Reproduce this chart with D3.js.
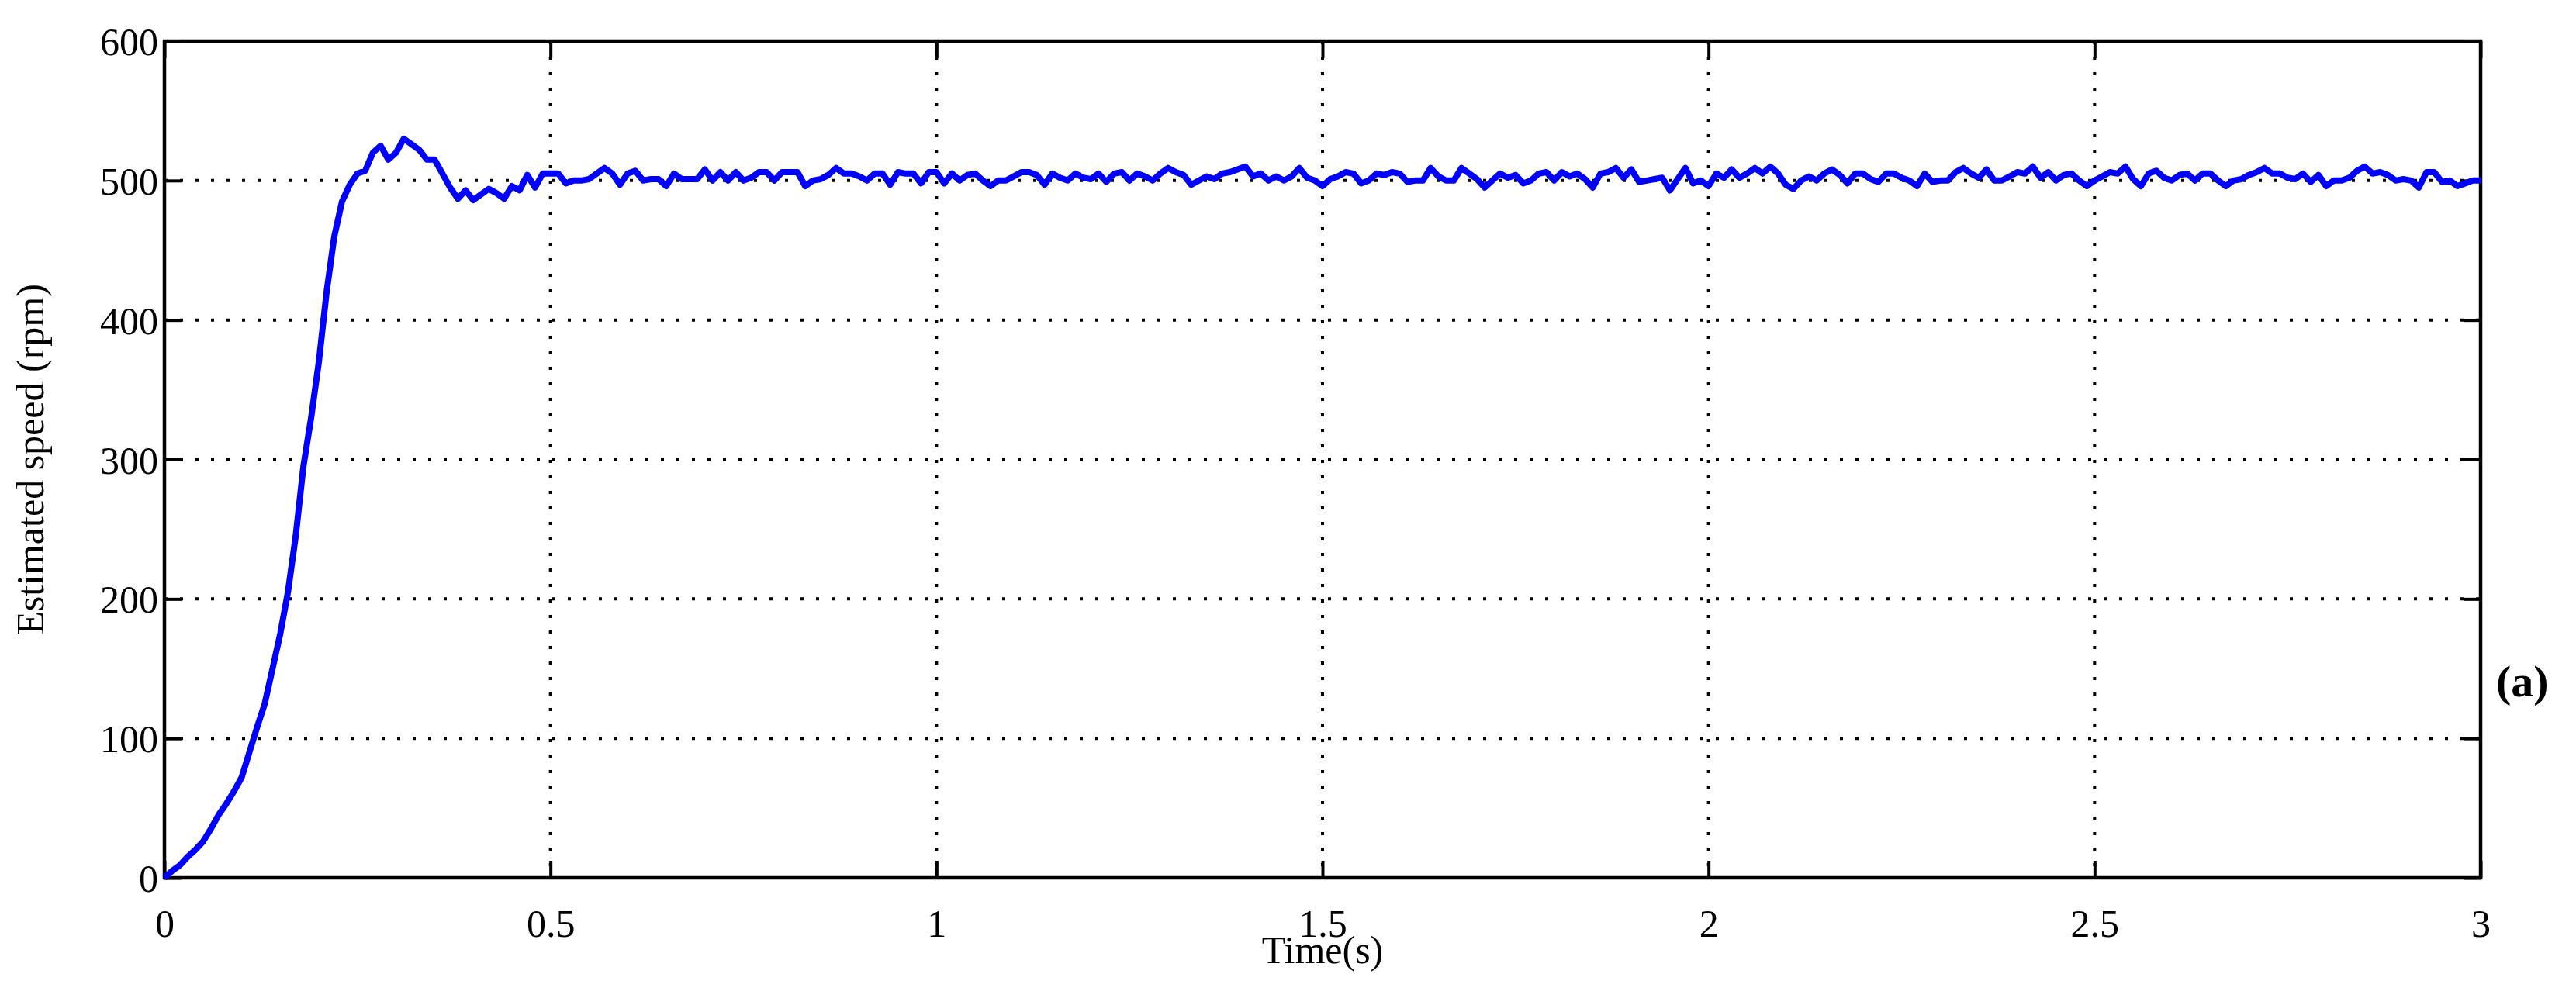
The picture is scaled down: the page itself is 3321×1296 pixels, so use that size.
<!DOCTYPE html>
<html><head><meta charset="utf-8">
<script src="https://cdn.jsdelivr.net/npm/d3@7"></script>
<style>body{margin:0;background:#fff}svg{display:block}text{font-family:"Liberation Serif","Times New Roman",serif}</style>
</head><body>
<script>
const xTicks = [0, 0.5, 1, 1.5, 2, 2.5, 3];
const xTickLabels = ["0", "0.5", "1", "1.5", "2", "2.5", "3"];
const yTicks = [0, 100, 200, 300, 400, 500, 600];
const riseTime = [0,0.01,0.02,0.03,0.04,0.05,0.06,0.07,0.08,0.09,0.10,0.11,0.12,0.13,0.14,0.15,0.16,0.17,0.18,0.19,0.20,0.21,0.22,0.23,0.24,0.25,0.26,0.27,0.28,0.29,0.30,0.31,0.32,0.33,0.34,0.35,0.36,0.37,0.38,0.39,0.40,0.41,0.42,0.43,0.44,0.45,0.46,0.47,0.48,0.49];
const riseSpeed = [0,5,9,15,20,26,35,45,53,62,72,90,108,125,150,175,205,245,295,330,370,420,460,485,497,505,507,520,525,515,520,530,526,522,515,515,505,495,487,493,486,490,494,491,487,496,493,504,495,505];
const steadySpeed = [505,505,498,500,500,501,505,509,505,497,505,507,500,501,501,496,505,501,501,501,508,500,506,500,506,500,502,506,506,500,506,506,506,496,500,501,504,509,505,505,503,500,505,505,497,506,505,505,498,506,506,498,505,500,504,505,500,496,500,500,503,506,506,504,497,505,502,500,505,502,501,505,499,505,506,500,505,503,500,505,509,506,504,497,500,503,501,505,506,508,510,503,505,500,503,500,503,509,502,500,496,501,503,506,505,498,500,505,504,506,505,499,500,500,509,503,500,500,509,505,501,495,500,505,502,504,498,500,505,506,500,506,503,505,501,495,505,506,509,502,508,499,500,501,502,493,501,509,498,500,496,505,502,508,502,505,509,505,510,505,497,494,500,503,500,505,508,504,498,505,505,501,499,505,505,502,500,496,505,499,500,500,506,509,505,502,508,500,500,503,506,505,510,502,506,500,504,505,500,496,500,503,506,505,510,501,496,505,507,502,500,504,505,500,505,505,500,496,500,501,504,506,509,505,505,502,501,505,499,504,496,500,500,502,507,510,505,506,504,500,501,500,495,506,506,499,500,496,498,500,500];
const steadyStart = 0.5, steadyStep = 0.01;

const W = 3321, H = 1296;
const m = {left: 212, right: 3198, top: 53, bottom: 1132};
const svg = d3.select("body").append("svg").attr("width", W).attr("height", H);
const x = d3.scaleLinear().domain([0, 3]).range([m.left, m.right]);
const y = d3.scaleLinear().domain([0, 600]).range([m.bottom, m.top]);

const data = riseTime.map((t, i) => [t, riseSpeed[i]])
  .concat(steadySpeed.map((v, i) => [steadyStart + i * steadyStep, v]));

const g = svg.append("g");
g.selectAll(".vg").data(xTicks.slice(1, -1)).join("line")
  .attr("x1", d => x(d)).attr("x2", d => x(d)).attr("y1", m.top).attr("y2", m.bottom)
  .attr("stroke", "#000").attr("stroke-width", 4).attr("stroke-dasharray", "4,16");
g.selectAll(".hg").data(yTicks.slice(1, -1)).join("line")
  .attr("y1", d => y(d)).attr("y2", d => y(d)).attr("x1", m.left).attr("x2", m.right)
  .attr("stroke", "#000").attr("stroke-width", 4).attr("stroke-dasharray", "4,16");

const tl = 22;
const ax = svg.append("g").attr("transform", `translate(0,${m.bottom})`)
  .call(d3.axisBottom(x).tickValues(xTicks).tickFormat((d, i) => xTickLabels[i]).tickSize(-tl).tickPadding(40));
const axT = svg.append("g").attr("transform", `translate(0,${m.top})`)
  .call(d3.axisTop(x).tickValues(xTicks).tickFormat("").tickSize(-tl));
const ay = svg.append("g").attr("transform", `translate(${m.left},0)`)
  .call(d3.axisLeft(y).tickValues(yTicks).tickSize(-tl).tickPadding(8));
const ayR = svg.append("g").attr("transform", `translate(${m.right},0)`)
  .call(d3.axisRight(y).tickValues(yTicks).tickFormat("").tickSize(-tl));
[ax, axT, ay, ayR].forEach(a => {
  a.select(".domain").remove();
  a.selectAll("line").attr("stroke", "#000").attr("stroke-width", 4);
  a.selectAll("text").attr("font-size", 50).attr("fill", "#000").attr("font-family", "Liberation Serif");
});
ay.selectAll("text").attr("dy", "0.35em");
svg.append("rect").attr("x", m.left).attr("y", m.top).attr("width", m.right - m.left).attr("height", m.bottom - m.top)
  .attr("fill", "none").attr("stroke", "#000").attr("stroke-width", 4.5);

svg.append("path").datum(data)
  .attr("d", d3.line().x(d => x(d[0])).y(d => y(d[1])))
  .attr("fill", "none").attr("stroke", "#0000ff").attr("stroke-width", 8).attr("stroke-linejoin", "round");

svg.append("text").attr("x", (m.left + m.right) / 2).attr("y", 1242).attr("text-anchor", "middle")
  .attr("font-size", 50).text("Time(s)");
svg.append("text").attr("transform", `translate(56,${(m.top + m.bottom) / 2}) rotate(-90)`).attr("text-anchor", "middle")
  .attr("font-size", 50).text("Estimated speed (rpm)");
svg.append("text").attr("x", 3218).attr("y", 898).attr("font-size", 58).attr("font-weight", "bold").text("(a)");
</script>
</body></html>
